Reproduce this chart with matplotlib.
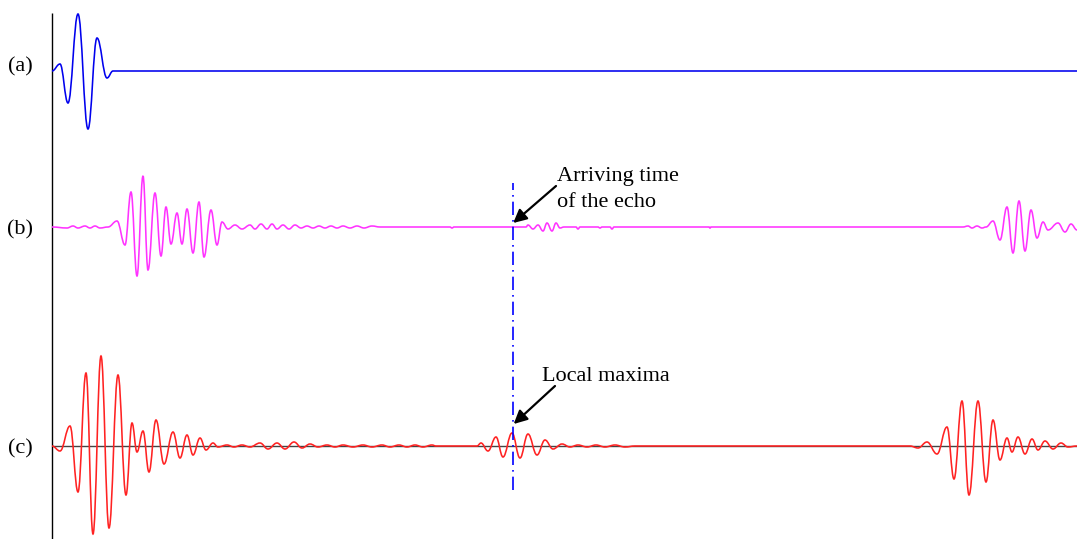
import numpy as np
import matplotlib.pyplot as plt
from matplotlib.path import Path
from matplotlib.patches import PathPatch

# sample index along the record, amplitude in display units (up = positive);
# each list holds the turning points of the trace
t_a = [0, 8, 16, 26, 36, 45, 55, 61, 1025]
amp_a = [0, 7, -32, 57, -58, 33, -7, 0, 0]

t_b = [0, 15, 21, 26, 33, 38, 43, 48, 56, 65, 73, 79, 85, 91, 96, 103, 109, 114,
       119, 125, 130, 135, 141, 147, 152, 159, 165, 170, 176, 183, 190, 198, 203,
       209, 215, 220, 225, 231, 237, 243, 249, 255, 261, 267, 273, 279, 285, 291,
       298, 305, 312, 320, 328, 398, 400, 402, 474, 476, 481, 486, 491, 495, 500,
       504, 508, 512, 524, 526, 528, 546, 548, 550, 558, 560, 562, 657, 658, 659,
       911, 916, 920, 925, 930, 934, 941, 948, 955, 961, 967, 973, 979, 985, 991,
       996, 1006, 1013, 1019, 1025]
amp_b = [0, -1, 1, -1, 1, -1, 1, -1, 0, 6, -18, 35, -49, 51, -43, 34, -29, 20,
         -17, 14, -17, 18, -26, 25, -30, 17, -18, 5, -2, 2, -2, 2, -2,
         3, -2, 3, -2, 2, -2, 2, -1, 1, -1, 1, -1, 1, -1, 1,
         -1, 1, -1, 1, 0, 0, -1, 0, 0, 2, -2, 2, -4, 4, -4,
         4, -1, 0, 0, -2, 0, 0, -1, 0, 0, -2, 0, 0, -1, 0,
         0, 1, -1, 1, -1, 0, 6, -13, 20, -26, 26, -24, 17, -11, 5,
         -3, 4, -5, 3, -3]

t_c = [0, 8, 18, 26, 34, 41, 49, 57, 66, 74, 80, 85, 91, 97, 104, 112, 121, 128,
       135, 141, 148, 154, 161, 166, 175, 182, 190, 198, 208, 216, 225, 233, 242,
       250, 258, 266, 275, 283, 291, 301, 311, 320, 330, 338, 347, 355, 363, 371,
       380, 384, 425, 429, 436, 444, 451, 460, 468, 476, 485, 493, 501, 510, 518,
       526, 535, 544, 553, 563, 573, 583, 858, 866, 875, 885, 895, 902, 910, 917,
       926, 934, 941, 948, 955, 960, 966, 973, 980, 986, 993, 1001, 1009, 1016, 1025]
amp_c = [0, -5, 20, -46, 73, -88, 90, -82, 71, -49, 23, -6, 15, -26, 26, -18, 14, -12,
         11, -9, 8, -4, 3, -1, 1, -1, 1, -1, 3, -3, 3, -3, 4,
         -2, 2, -1, 1, -1, 1, -1, 1, -1, 1, -1, 1, -1, 1, -1,
         1, 0, 0, 3, -5, 9, -11, 13, -12, 12, -9, 6, -3, 2, -1,
         1, -1, 1, -1, 1, -1, 0, 0, -2, 4, -8, 19, -33, 45, -49,
         45, -36, 26, -14, 8, -6, 9, -8, 7, -4, 5, -3, 3, -1, 0]

labels = ["(a)", "(b)", "(c)"]
t_echo = 460.7

# vertical placement of each trace
base_a, base_b, base_c = -71, -227, -446


def wave(ax, t, amp, base, color):
    # flat-topped cubic segments between successive turning points
    t = np.asarray(t, float)
    y = np.asarray(amp, float) + base
    verts = [(t[0], y[0])]
    codes = [Path.MOVETO]
    for i in range(1, len(t)):
        dt = t[i] - t[i - 1]
        verts += [(t[i - 1] + dt * 0.4, y[i - 1]), (t[i] - dt * 0.4, y[i]), (t[i], y[i])]
        codes += [Path.CURVE4] * 3
    ax.add_patch(PathPatch(Path(verts, codes), fill=False, edgecolor=color,
                           lw=1.15, zorder=2))


fig = plt.figure(figsize=(10.77, 5.39), dpi=100)
ax = fig.add_axes([0, 0, 1, 1])
ax.set_xlim(-52, 1025)
ax.set_ylim(-539, 0)
ax.axis("off")

serif = "Liberation Serif"

ax.vlines(0, -539, -13, color="black", lw=1.0)
ax.hlines(base_c, 0, 1025, color="#444444", lw=1.0, zorder=1)

wave(ax, t_a, amp_a, base_a, "#0000ee")
wave(ax, t_b, amp_b, base_b, "#ff33ff")
wave(ax, t_c, amp_c, base_c, "#ff2222")

for lab, base in zip(labels, [base_a + 4, base_b - 3, base_c - 3]):
    ax.text(-19, base, lab, ha="right", va="center", family=serif, fontsize=16)

ax.vlines(t_echo, base_c - 44, base_b + 44, color="#0000ff", lw=1.2,
          linestyles=(0, (8, 3, 1, 3)), zorder=3)

ax.text(505, -207, "Arriving time\nof the echo", family=serif, fontsize=16,
        va="baseline", ha="left", linespacing=1.5)
ax.annotate("", xy=(t_echo + 0.5, base_b + 4), xytext=(504, -186),
            arrowprops=dict(arrowstyle="-|>", color="black", lw=1.6,
                            mutation_scale=20, shrinkA=0, shrinkB=0))

ax.text(490, -381, "Local maxima", family=serif, fontsize=16,
        va="baseline", ha="left")
ax.annotate("", xy=(t_echo + 1, base_c + 22), xytext=(503, -386),
            arrowprops=dict(arrowstyle="-|>", color="black", lw=1.6,
                            mutation_scale=20, shrinkA=0, shrinkB=0))

plt.savefig("out.png", dpi=100)
